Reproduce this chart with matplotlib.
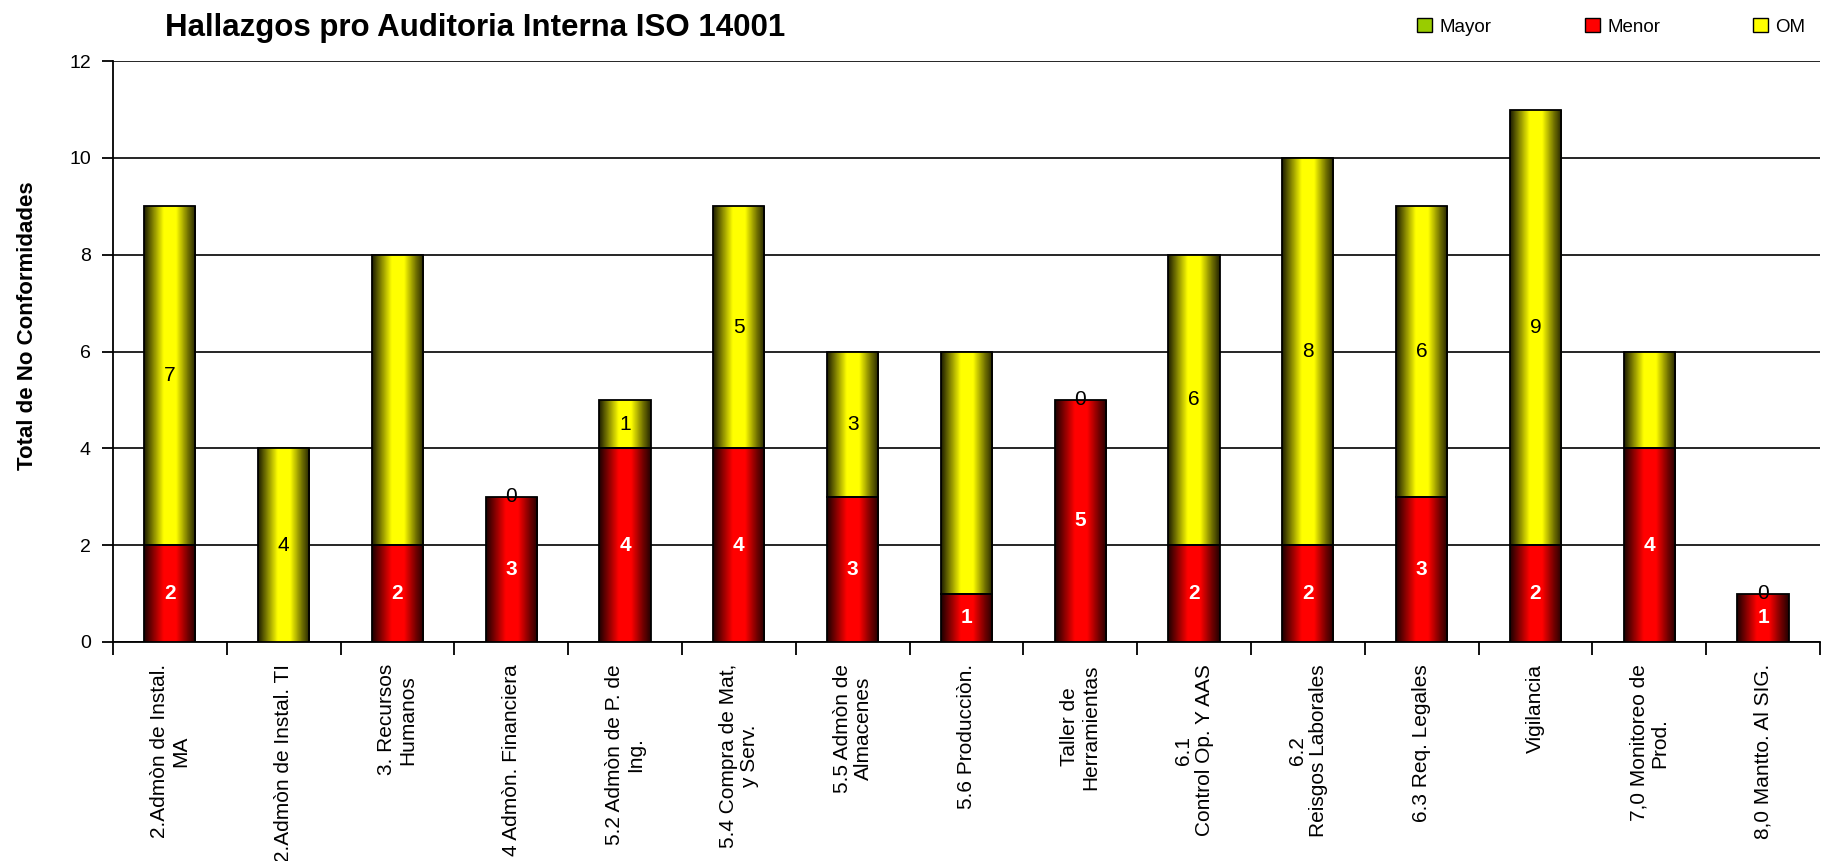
import numpy as np
import matplotlib
matplotlib.use('Agg')
import matplotlib.pyplot as plt
from matplotlib.patches import Rectangle, Patch

plt.rcParams['font.family'] = ['Liberation Sans', 'DejaVu Sans']

# data
areas = ['2.Admòn de Instal.\nMA', '2.Admòn de Instal. TI', '3. Recursos\nHumanos',
         '4 Admòn. Financiera', '5.2 Admòn de P. de\nIng.', '5.4 Compra de Mat,\ny Serv.',
         '5.5 Admòn de\nAlmacenes', '5.6 Producciòn.', 'Taller de\nHerramientas',
         '6.1\nControl Op. Y AAS', '6.2\nReisgos Laborales', '6.3 Req. Legales',
         'Vigilancia', '7,0 Monitoreo de\nProd.', '8,0 Mantto. Al SIG.']
mayor = [0, 0, 0, 0, 0, 0, 0, 0, 0, 0, 0, 0, 0, 0, 0]
menor = [2, 0, 2, 3, 4, 4, 3, 1, 5, 2, 2, 3, 2, 4, 1]
om    = [7, 4, 6, 0, 1, 5, 3, 5, 0, 6, 8, 6, 9, 2, 0]
# which OM value labels appear in the original
om_shown = [True, True, False, True, True, True, True, False, True, True, True, True, True, False, True]

fig = plt.figure(figsize=(18.43, 8.61), dpi=100)
ax = fig.add_axes([0.0613, 0.2544, 0.9262, 0.6746])

x = np.arange(len(areas))
w = 0.45

# cylinder-like shading across each bar
t = np.linspace(0, 1, 64)
shade = np.interp(t, [0, 0.1, 0.38, 0.62, 0.85, 1], [0.12, 0.35, 1, 1, 0.45, 0.15])


def shaded_bar(xc, bottom, height, rgb):
    if height <= 0:
        return
    img = shade[None, :, None] * np.array(rgb)[None, None, :]
    rect = Rectangle((xc - w / 2, bottom), w, height, facecolor='none',
                     edgecolor='black', lw=1.3, zorder=4)
    ax.add_patch(rect)
    im = ax.imshow(img, extent=[xc - w / 2, xc + w / 2, bottom, bottom + height],
                   aspect='auto', zorder=3, interpolation='bilinear')
    im.set_clip_path(rect)


bottom_menor = np.array(mayor)
bottom_om = bottom_menor + np.array(menor)
for i in x:
    shaded_bar(i, bottom_menor[i], menor[i], (1, 0, 0))
    shaded_bar(i, bottom_om[i], om[i], (1, 1, 0))
    if menor[i] > 0:
        ax.text(i, bottom_menor[i] + menor[i] / 2, str(menor[i]), ha='center', va='center',
                color='white', fontweight='bold', fontsize=15, zorder=5)
    if om_shown[i]:
        ax.text(i, bottom_om[i] + om[i] / 2, str(om[i]), ha='center', va='center',
                color='black', fontsize=15, zorder=5)

ax.set_xlim(-0.5, len(areas) - 0.5)
ax.set_ylim(0, 12)
ax.set_yticks(range(0, 13, 2))
ax.yaxis.grid(True, color='black', lw=1.2)
ax.set_axisbelow(True)
ax.set_xticks(x)
ax.set_xticklabels(areas, rotation=90, fontsize=15, linespacing=1.15)
ax.set_xticks(np.arange(-0.5, len(areas), 1), minor=True)
ax.tick_params(axis='x', which='major', length=0, pad=16)
ax.tick_params(axis='x', which='minor', length=9, width=1.3, direction='out')
ax.tick_params(axis='y', length=8, width=1.3, labelsize=14, pad=8)
for s in ['top', 'right']:
    ax.spines[s].set_visible(False)
for s in ['left', 'bottom']:
    ax.spines[s].set_linewidth(1.3)

ax.set_ylabel('Total de No Conformidades', fontweight='bold', fontsize=16)
ax.yaxis.set_label_coords(-0.0437, 0.545)

fig.text(0.0895, 0.968, 'Hallazgos pro Auditoria Interna ISO 14001', fontsize=22.5,
         fontweight='bold', va='center', ha='left')

handles = [Patch(facecolor='#99CC00', edgecolor='black'),
           Patch(facecolor='#FF0000', edgecolor='black'),
           Patch(facecolor='#FFFF00', edgecolor='black')]
fig.legend(handles, ['Mayor', 'Menor', 'OM'], ncol=3, frameon=False, fontsize=13.5,
           loc='center left', bbox_to_anchor=(0.7640, 0.969), borderpad=0,
           handlelength=0.8, handleheight=0.8, handletextpad=0.4, columnspacing=4.95)

fig.savefig('out.png', dpi=100)
